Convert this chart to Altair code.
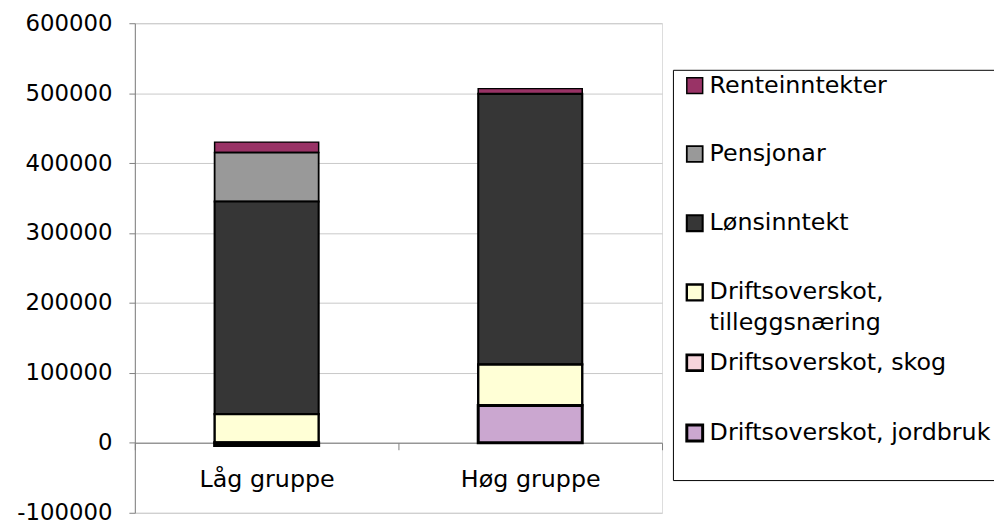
import altair as alt
import pandas as pd

groups = ["Låg gruppe", "Høg gruppe"]
categories = [
    "Renteinntekter",
    "Pensjonar",
    "Lønsinntekt",
    "Driftsoverskot, tilleggsnæring",
    "Driftsoverskot, skog",
    "Driftsoverskot, jordbruk",
]
renteinntekter = [15000, 7500]
pensjonar = [70000, 0]
lonsinntekt = [304000, 387000]
tilleggsnaering = [41000, 58500]
skog = [0, 0]
jordbruk = [-4000, 53500]
y_ticks = [-100000, 0, 100000, 200000, 300000, 400000, 500000, 600000]

colors = ["#993366", "#999999", "#363636", "#FFFFD6", "#F6D5DB", "#CBA7D0"]
stroke_widths = [1.5, 3, 3, 3, 1, 1]

series = [renteinntekter, pensjonar, lonsinntekt, tilleggsnaering, skog, jordbruk]
rows = []
for ci, (cat, vals) in enumerate(zip(categories, series)):
    for gi, g in enumerate(groups):
        rows.append({"group": g, "category": cat, "value": vals[gi],
                     "order": len(categories) - 1 - ci})
df = pd.DataFrame(rows)

FONT = "DejaVu Sans"

label_expr = ("datum.label == 'Driftsoverskot, tilleggsnæring' ? "
              "['Driftsoverskot,', 'tilleggsnæring'] : [datum.label, '']")

chart = alt.Chart(df).mark_bar(size=105, stroke="black").encode(
    x=alt.X("group:N", sort=groups, title=None,
            scale=alt.Scale(paddingInner=0, paddingOuter=0),
            axis=alt.Axis(orient="bottom", offset=-70.6, labelAngle=0,
                          tickBand="extent", tickSize=7, labelPadding=18,
                          labelFont=FONT, labelFontSize=24, labelColor="black",
                          domainColor="#808080", tickColor="#808080",
                          grid=False)),
    y=alt.Y("value:Q", stack="zero", title=None,
            scale=alt.Scale(domain=[-100000, 600000], nice=False, zero=False),
            axis=alt.Axis(values=y_ticks, labelExpr="'' + datum.value",
                          tickSize=6, labelPadding=17, labelFont=FONT,
                          labelFontSize=23, labelColor="black",
                          domainColor="#808080", tickColor="#808080",
                          gridColor="#C8C8C8", grid=True)),
    color=alt.Color("category:N",
                    scale=alt.Scale(domain=categories, range=colors),
                    legend=alt.Legend(title=None, orient="none", legendX=543, legendY=47,
                                      fillColor="white", strokeColor="black",
                                      padding=4, rowPadding=13.9,
                                      symbolType="square", symbolSize=256,
                                      symbolOffset=6,
                                      symbolStrokeColor="black", symbolStrokeWidth=2,
                                      labelFont=FONT, labelFontSize=24,
                                      labelColor="black", labelLimit=600,
                                      labelOffset=3, labelExpr=label_expr)),
    strokeWidth=alt.StrokeWidth("category:N",
                                scale=alt.Scale(domain=categories, range=stroke_widths),
                                legend=None),
    order=alt.Order("order:Q", sort="ascending"),
).properties(
    width=532,
    height=494,
    autosize=alt.AutoSizeParams(type="none"),
    padding={"left": 128, "top": 13, "right": 335, "bottom": 14},
).configure_view(strokeWidth=0).configure(
    style={"guide-label": {"lineHeight": 31}}
)

chart.save("out.html", embed_options={"renderer": "svg", "actions": False})
